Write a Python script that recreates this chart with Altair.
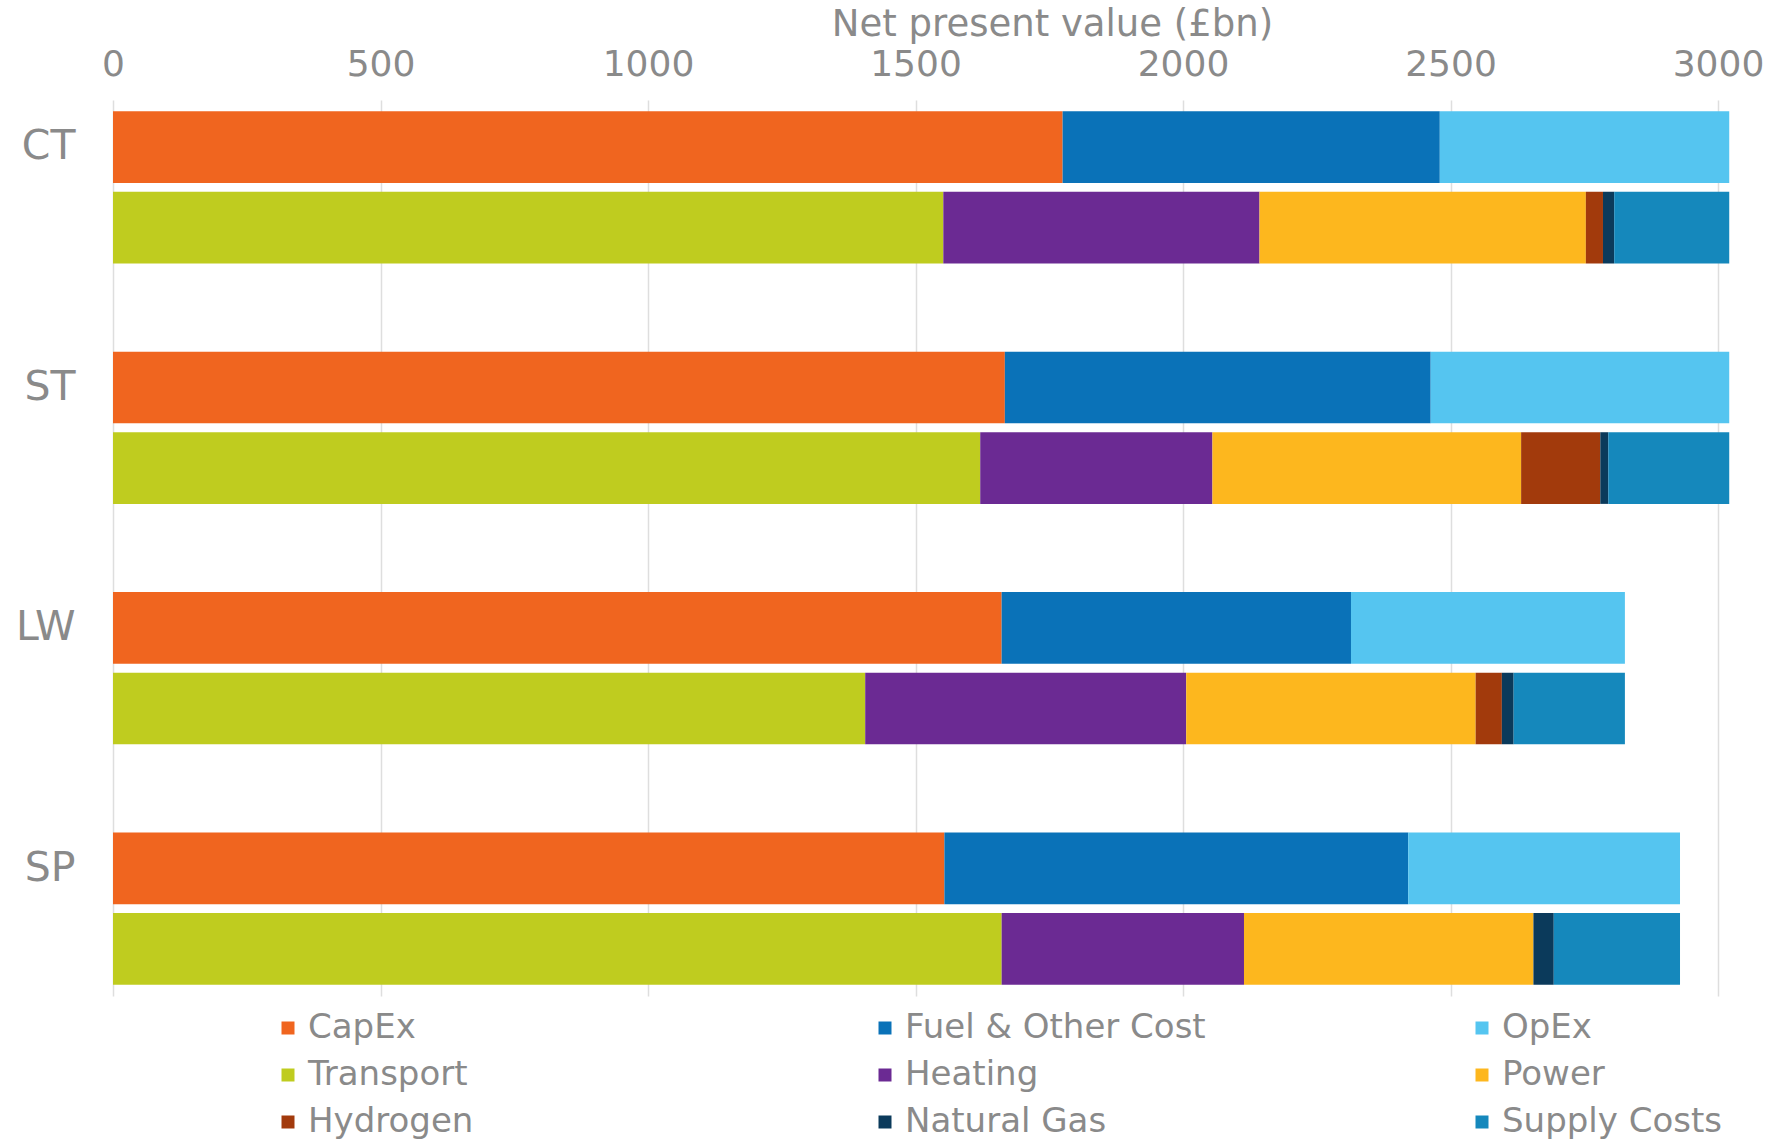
import altair as alt
import pandas as pd

scenarios = ["CT", "ST", "LW", "SP"]
bars = ["Cost", "Sector"]

cost_components = ["CapEx", "Fuel & Other Cost", "OpEx"]
sector_components = ["Transport", "Heating", "Power", "Hydrogen", "Natural Gas", "Supply Costs"]

capex = [1775, 1667, 1661, 1554]
fuel_other = [705, 796, 653, 867]
opex = [541, 558, 512, 508]

transport = [1552, 1621, 1406, 1661]
heating = [591, 434, 600, 453]
power = [610, 577, 541, 541]
hydrogen = [32, 148, 49, 0]
natural_gas = [21, 15, 22, 38]
supply_costs = [215, 226, 208, 236]

legend_order = cost_components + sector_components
colors = ["#F0651F", "#0A72B8", "#55C5F0",
          "#BFCC1F", "#6B2A93", "#FDB71E",
          "#A23A0C", "#0B3A5B", "#1588BC"]

cost_series = [capex, fuel_other, opex]
sector_series = [transport, heating, power, hydrogen, natural_gas, supply_costs]

rows = []
for i, sc in enumerate(scenarios):
    for name, vals in zip(cost_components, cost_series):
        rows.append({"scenario": sc, "bar": "Cost", "component": name,
                     "value": vals[i], "ord": legend_order.index(name)})
    for name, vals in zip(sector_components, sector_series):
        rows.append({"scenario": sc, "bar": "Sector", "component": name,
                     "value": vals[i], "ord": legend_order.index(name)})
df = pd.DataFrame(rows)

font = "DejaVu Sans"
gray = "#8a8a8a"

chart = alt.Chart(df).mark_bar().encode(
    x=alt.X("sum(value):Q",
            scale=alt.Scale(domain=[0, 3000], nice=False, zero=True),
            axis=alt.Axis(orient="top", values=[0, 500, 1000, 1500, 2000, 2500, 3000],
                          format="d", labelFlush=False,
                          title="Net present value (£bn)", titleFont=font, titleFontSize=37,
                          titleFontWeight="normal", titleColor=gray, titlePadding=3,
                          titleX=939, titleAlign="center", titleAnchor="middle",
                          labelFont=font, labelFontSize=36, labelColor=gray,
                          labelPadding=17, ticks=False, domain=False,
                          grid=True, gridColor="#dedede", gridWidth=1.5)),
    y=alt.Y("scenario:N", sort=scenarios,
            scale=alt.Scale(paddingInner=0.367, paddingOuter=0.047),
            axis=alt.Axis(title=None, labelFont=font, labelFontSize=41, labelColor=gray,
                          labelOffset=-40, labelPadding=38, ticks=False, domain=False)),
    yOffset=alt.YOffset("bar:N", sort=bars,
                        scale=alt.Scale(paddingInner=0.11, paddingOuter=0)),
    color=alt.Color("component:N", sort=legend_order,
                    scale=alt.Scale(domain=legend_order, range=colors),
                    legend=alt.Legend(title=None, orient="none", legendX=158, legendY=911,
                                      direction="horizontal",
                                      columns=3, gridAlign="all", columnPadding=259,
                                      rowPadding=13, symbolType="square", symbolSize=169,
                                      symbolStrokeWidth=0, labelFont=font, labelFontSize=34,
                                      labelColor=gray, labelOffset=3, labelLimit=600)),
    order=alt.Order("ord:Q", sort="ascending"),
).properties(
    width=1605, height=896,
    padding={"left": 15, "top": 5, "right": 0, "bottom": 0},
    background="white",
).configure_view(stroke=None)

chart.save("out.html", embed_options={"renderer": "svg", "actions": False})
